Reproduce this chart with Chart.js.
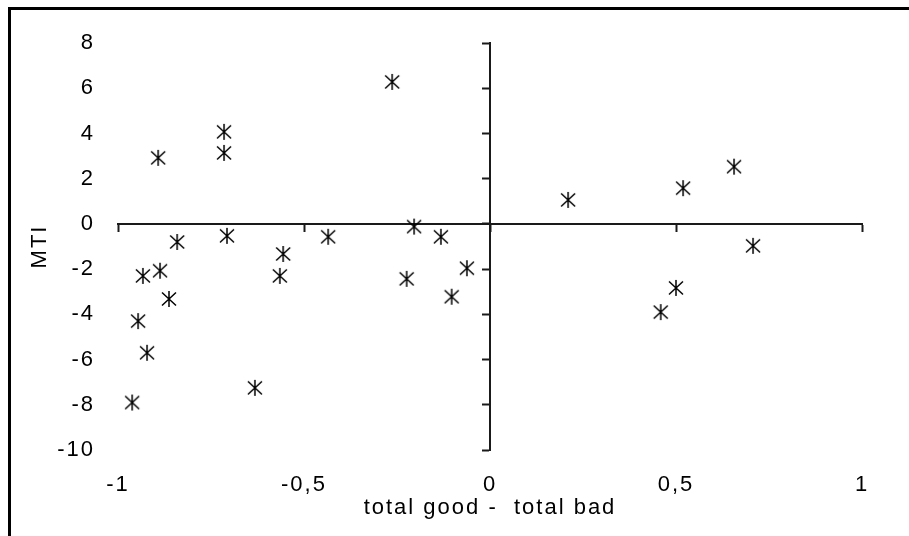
<!DOCTYPE html>
<html><head><meta charset="utf-8">
<script src="https://cdn.jsdelivr.net/npm/chart.js@4.4.1/dist/chart.umd.min.js"></script>
<style>
html,body{margin:0;padding:0;overflow:hidden;background:#fff;width:909px;height:536px}
#frame{position:absolute;left:8px;top:7px;width:1000px;height:700px;border-left:3px solid #000;border-top:3px solid #000;box-sizing:border-box}
canvas{position:absolute;left:0;top:0}
</style></head><body>
<div id="frame"></div>
<canvas id="c" width="909" height="536"></canvas>
<script>
const xValues = [-0.962,-0.946,-0.933,-0.922,-0.892,-0.887,-0.863,-0.841,-0.715,-0.715,-0.707,-0.632,-0.565,-0.556,-0.435,-0.263,-0.224,-0.204,-0.132,-0.103,-0.062,0.21,0.459,0.5,0.519,0.656,0.707];
const yValues = [-7.9,-4.3,-2.3,-5.7,2.92,-2.07,-3.32,-0.8,4.07,3.14,-0.53,-7.25,-2.3,-1.33,-0.57,6.28,-2.43,-0.12,-0.57,-3.22,-1.96,1.06,-3.9,-2.83,1.58,2.53,-0.97];
const xTicks = [-1,-0.5,0,0.5,1];
const yTicks = [8,6,4,2,0,-2,-4,-6,-8,-10];
const xTitle = 'total good -  total bad';
const yTitle = 'MTI';

const axisColor = '#1a1a1a';
const font = {family:'"Liberation Sans", Arial, sans-serif', size:22};

const star = document.createElement('canvas');
star.width = 18; star.height = 18;
(function(){
  const g = star.getContext('2d');
  g.strokeStyle = '#000'; g.lineWidth = 1.5; g.lineCap = 'butt';
  g.beginPath();
  g.moveTo(2,2.5); g.lineTo(16,15.5);
  g.moveTo(16,2.5); g.lineTo(2,15.5);
  g.moveTo(9,1); g.lineTo(9,17);
  g.stroke();
})();

const pts = xValues.map((x,i)=>({x:x,y:yValues[i]}));
const LS = '2px';
const spacing = {
  id:'spacing',
  beforeUpdate(c){c.ctx.letterSpacing=LS;},
  beforeLayout(c){c.ctx.letterSpacing=LS;},
  beforeDraw(c){c.ctx.letterSpacing=LS;}
};
const fmt = v => String(v).replace('.',',');

new Chart(document.getElementById('c'), {
  type:'scatter',
  data:{datasets:[{data:pts, pointStyle:star, pointRadius:9, showLine:false, borderColor:'#000', backgroundColor:'#000'}]},
  plugins:[spacing],
  options:{
    responsive:false, animation:false, devicePixelRatio:1,
    layout:{padding:{left:0,top:43,right:47,bottom:0}},
    plugins:{legend:{display:false}, tooltip:{enabled:false}},
    scales:{
      x:{type:'linear', position:{y:0}, min:-1, max:1,
        afterBuildTicks:s=>{s.ticks=xTicks.map(v=>({value:v}));},
        ticks:{display:false},
        grid:{drawOnChartArea:false, drawTicks:true, tickLength:7, tickWidth:2, tickColor:axisColor},
        border:{display:true, color:axisColor, width:2}},
      y:{type:'linear', position:{x:0}, min:-10, max:8,
        afterBuildTicks:s=>{s.ticks=yTicks.map(v=>({value:v}));},
        ticks:{display:false},
        grid:{drawOnChartArea:false, drawTicks:true, tickLength:7, tickWidth:2, tickColor:axisColor},
        border:{display:true, color:axisColor, width:2}},
      xl:{type:'linear', axis:'x', position:'bottom', min:-1, max:1,
        afterBuildTicks:s=>{s.ticks=xTicks.map(v=>({value:v}));},
        grid:{display:false, drawTicks:false}, border:{display:false},
        ticks:{padding:22, font:font, color:'#000', callback:fmt, maxRotation:0, autoSkip:false},
        title:{display:true, text:xTitle, font:font, color:'#000', padding:{top:0,bottom:15}},
        afterFit:s=>{s.height=86;}},
      yl:{type:'linear', axis:'y', position:'left', min:-10, max:8,
        afterBuildTicks:s=>{s.ticks=yTicks.map(v=>({value:v}));},
        grid:{display:false, drawTicks:false}, border:{display:false},
        ticks:{padding:23, font:font, color:'#000', callback:fmt, autoSkip:false},
        title:{display:true, text:yTitle, font:font, color:'#000', padding:{top:27,bottom:0}},
        afterFit:s=>{s.width=118;}}
    }
  }
});
</script>
</body></html>
